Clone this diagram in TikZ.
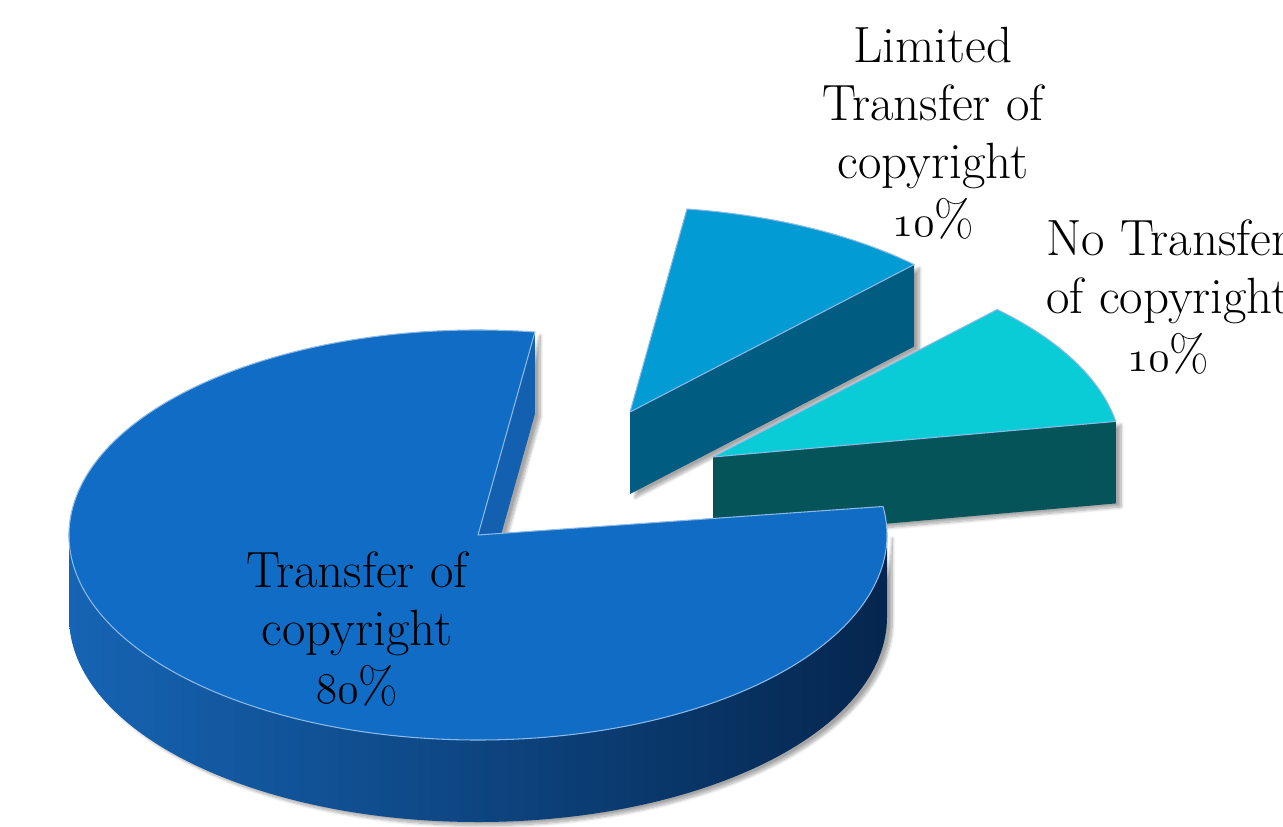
\documentclass[tikz,border=0pt]{standalone}
\usetikzlibrary{shadows.blur}
\definecolor{bigtop}{RGB}{16,108,196}
\definecolor{bigcut}{RGB}{20,96,176}
\definecolor{bigsideL}{RGB}{22,100,180}
\definecolor{bigsideR}{RGB}{5,38,78}
\definecolor{limtop}{RGB}{3,155,212}
\definecolor{limside}{RGB}{0,92,128}
\definecolor{cyantop}{RGB}{10,204,214}
\definecolor{cyanside}{RGB}{5,84,90}
\definecolor{edgecol}{RGB}{140,185,230}
\newcommand{\osn}[1]{{\usefont{OML}{cmm}{m}{it}#1}}
\tikzset{
  topface/.style={draw=edgecol, line width=0.6pt, line join=round},
  sideface/.style={blur shadow={shadow xshift=3pt, shadow yshift=-2pt, shadow blur steps=10, shadow opacity=35}},
  lbl/.style={align=center, inner sep=0pt, font=\fontsize{29}{33}\selectfont}
}
\begin{document}
\begin{tikzpicture}[x=0.02cm,y=0.02cm]
\useasboundingbox (0,0) rectangle (1283,826);
\clip (0,0) rectangle (1283,826);
% Limited transfer slice
\coordinate (LA) at (630,414);
\path[fill=limside, sideface] (LA) -- ++(46:409 and 205) -- ++(0,-82) -- ++(226:409 and 205) -- cycle;
\path[fill=limtop, topface] (LA) -- ++(82:409 and 205) arc[start angle=82, end angle=46, x radius=409, y radius=205] -- cycle;
% No transfer slice
\coordinate (NA) at (713,369);
\path[fill=cyanside, sideface] (NA) -- ++(10:409 and 205) -- ++(0,-82) -- ++(190:409 and 205) -- cycle;
\path[fill=cyantop, topface] (NA) -- ++(46:409 and 205) arc[start angle=46, end angle=10, x radius=409, y radius=205] -- cycle;
% Big slice
\coordinate (C) at (478,291);
\coordinate (L) at (69,291);
\path[fill=bigcut, sideface] (C) -- ++(82:409 and 205) -- ++(0,-82) -- ++(262:409 and 205) -- cycle;
\path[left color=bigsideL, right color=bigsideR, sideface] (L) arc[start angle=180, end angle=360, x radius=409, y radius=205] -- ++(0,-82) arc[start angle=360, end angle=180, x radius=409, y radius=205] -- cycle;
\path[fill=bigtop, topface] (C) -- ++(82:409 and 205) arc[start angle=82, end angle=368, x radius=409, y radius=205] -- cycle;
% Labels
\node[lbl] (lim) at (933,693) {Limited\\Transfer of\\copyright\\\osn{10}\%};
\node[lbl] (no) at (1168,529) {No Transfer\\of copyright\\\osn{10}\%};
\node[lbl] (tr) at (357,197) {Transfer of\\copyright\\\osn{80}\%};
\end{tikzpicture}
\end{document}
